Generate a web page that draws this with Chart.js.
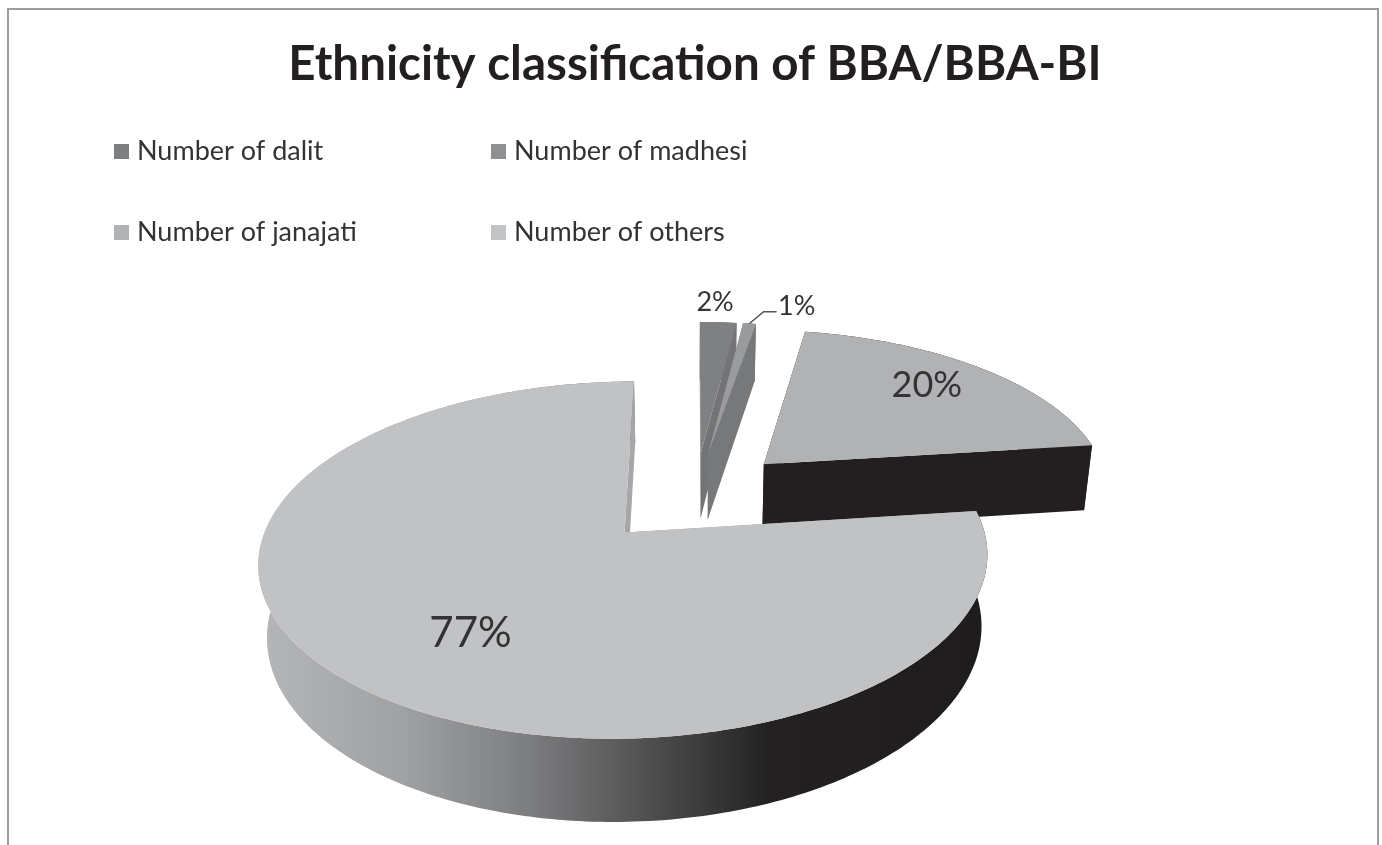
<!DOCTYPE html>
<html>
<head>
<meta charset="utf-8">
<title>Ethnicity classification of BBA/BBA-BI</title>
<script src="https://cdn.jsdelivr.net/npm/chart.js@4.5.1/dist/chart.umd.js"></script>
<style>
  html, body { margin:0; height:100%; background:#fff; overflow:hidden; }
  #frame { position:absolute; left:7px; top:8px; width:1372px; height:900px; border:2px solid #9c9c9c; box-sizing:border-box; }
  #c { position:absolute; left:0; top:0; }
</style>
</head>
<body>
<div id="frame"></div>
<canvas id="c" width="1382" height="845"></canvas>
<script>
// values (the madhesi slice is thinner than a full 1%)
const titleText = "Ethnicity classification of BBA/BBA-BI";
const categories = ["Number of dalit", "Number of madhesi", "Number of janajati", "Number of others"];
const percents = [2, 0.7, 20.3, 77];

// slice styles
const topColors  = ["#7f8082", "#9a9b9d", "#b1b2b4", "#c1c2c4"];
const faceColors = ["#737476", "#77787a", "#231f20", "#a6a7a9"];
const keyColors  = ["#7d7e80", "#8f9092", "#b1b2b4", "#c2c3c5"];
const explode    = [92, 92, 98, 103];
const wallStops  = [[0,"#b5b6b8"],[0.2,"#a0a1a3"],[0.38,"#7a7b7d"],[0.55,"#4c4b4c"],[0.7,"#232122"],[1,"#1e1c1d"]];

// label placement, relative to each slice (radius fraction, turn from mid angle in degrees)
const labelRadius = [1.18, 1.18, 0.77, 0.65];
const labelTurn   = [-1, 7, -2, -6];
const labelSize   = [27, 27, 36, 42];

// perspective of the pie plane
const TILT = 0.468, PERSP = 0.15, DEPTH = 68, SHRINK = 0.02;

function project(arc, x, y, down) {
  const R = arc.outerRadius;
  const w = 1 + PERSP*y;
  let px = R*x/w, py = -R*TILT*y/w;
  if (down) { px *= 1-SHRINK; py += DEPTH/w; }
  return [arc.x+px, arc.y+py];
}

// plane coords of a point on a slice: r = radius fraction, a = chart angle
function slicePoint(arc, offset, r, a) {
  const mid = (arc.startAngle+arc.endAngle)/2, e = offset/arc.outerRadius;
  return [Math.cos(mid)*e + r*Math.cos(a), -Math.sin(mid)*e - r*Math.sin(a)];
}

function fillPoly(ctx, pts, fill) {
  ctx.beginPath();
  pts.forEach((p,i)=> i ? ctx.lineTo(p[0],p[1]) : ctx.moveTo(p[0],p[1]));
  ctx.closePath();
  ctx.fillStyle = fill;
  ctx.fill();
}

// pie arcs get drawn as tilted 3d slices, geometry still comes from the controller
Chart.ArcElement.prototype.draw = function(ctx) {
  const o = this.options;
  const arc = this.getProps(["x","y","startAngle","endAngle","outerRadius"]);
  const sweep = arc.endAngle-arc.startAngle;
  const steps = Math.max(2, Math.ceil(sweep*60));
  const rim = [];
  for (let i=0; i<=steps; i++) rim.push(slicePoint(arc, o.offset, 1, arc.startAngle+sweep*i/steps));
  const apex = slicePoint(arc, o.offset, 0, 0);
  const up = p => project(arc, p[0], p[1], false);
  const dn = p => project(arc, p[0], p[1], true);

  ctx.save();
  // outer wall, only the big slice shows the shaded rim
  let wall = o.borderColor;
  if (sweep > Math.PI) {
    const xs = rim.map(p => up(p)[0]);
    wall = ctx.createLinearGradient(Math.min(...xs), 0, Math.max(...xs), 0);
    wallStops.forEach(s => wall.addColorStop(s[0], s[1]));
  }
  fillPoly(ctx, rim.map(up).concat(rim.slice().reverse().map(dn)), wall);
  // cut faces
  [rim[0], rim[steps]].forEach(p => fillPoly(ctx, [up(apex), up(p), dn(p), dn(apex)], o.borderColor));
  // top
  fillPoly(ctx, [up(apex)].concat(rim.map(up)), o.backgroundColor);
  ctx.restore();
};

const pieLabels = {
  id: "pieLabels",
  afterDatasetsDraw(chart) {
    const ctx = chart.ctx, arcs = chart.getDatasetMeta(0).data;
    ctx.save();
    ctx.fillStyle = "#333234";
    ctx.textAlign = "center";
    ctx.textBaseline = "middle";
    let spot = [];
    arcs.forEach((el,i) => {
      const arc = el.getProps(["x","y","startAngle","endAngle","outerRadius"]);
      const mid = (arc.startAngle+arc.endAngle)/2;
      const a = mid + labelTurn[i]*Math.PI/180;
      const p = slicePoint(arc, el.options.offset, labelRadius[i], a);
      spot[i] = project(arc, p[0], p[1], false);
      ctx.font = labelSize[i] + "px Lato";
      ctx.fillText(Math.round(percents[i]) + "%", spot[i][0], spot[i][1]);
    });
    // leader for the 1% label
    const el = arcs[1];
    const arc = el.getProps(["x","y","startAngle","endAngle","outerRadius"]);
    const tip = slicePoint(arc, el.options.offset, 1, (arc.startAngle+arc.endAngle)/2);
    const from = project(arc, tip[0], tip[1], false);
    ctx.strokeStyle = "#555";
    ctx.lineWidth = 1.5;
    ctx.beginPath();
    ctx.moveTo(from[0], from[1]);
    ctx.lineTo(spot[1][0]-33, spot[1][1]+5);
    ctx.lineTo(spot[1][0]-20, spot[1][1]+5);
    ctx.stroke();
    ctx.restore();
  }
};

// two column legend, the built in one can't line the columns up
const gridLegend = {
  id: "gridLegend",
  afterDraw(chart, _a, opts) {
    const ctx = chart.ctx;
    ctx.save();
    ctx.font = opts.size + "px Lato";
    ctx.textBaseline = "middle";
    categories.forEach((name,i) => {
      const x = opts.cols[i%2], y = opts.rows[Math.floor(i/2)];
      ctx.fillStyle = keyColors[i];
      ctx.fillRect(x, y-7, 15, 15);
      ctx.fillStyle = "#333234";
      ctx.fillText(name, x+23, y);
    });
    ctx.restore();
  }
};

new Chart(document.getElementById("c"), {
  type: "pie",
  data: {
    labels: categories,
    datasets: [{
      data: percents,
      backgroundColor: topColors,
      borderColor: faceColors,
      borderWidth: 0,
      offset: explode,
      radius: 348
    }]
  },
  options: {
    responsive: false,
    animation: false,
    layout: { padding: { left: 8 } },
    plugins: {
      legend: { display: false },
      tooltip: { enabled: false },
      title: {
        display: true,
        text: titleText,
        color: "#231f20",
        font: { family: "Lato", size: 47.5, weight: "bold", lineHeight: 1.2 },
        padding: { top: 36, bottom: 52 }
      },
      gridLegend: { cols: [114, 491], rows: [151, 232], size: 27 }
    }
  },
  plugins: [pieLabels, gridLegend]
});
</script>
</body>
</html>
